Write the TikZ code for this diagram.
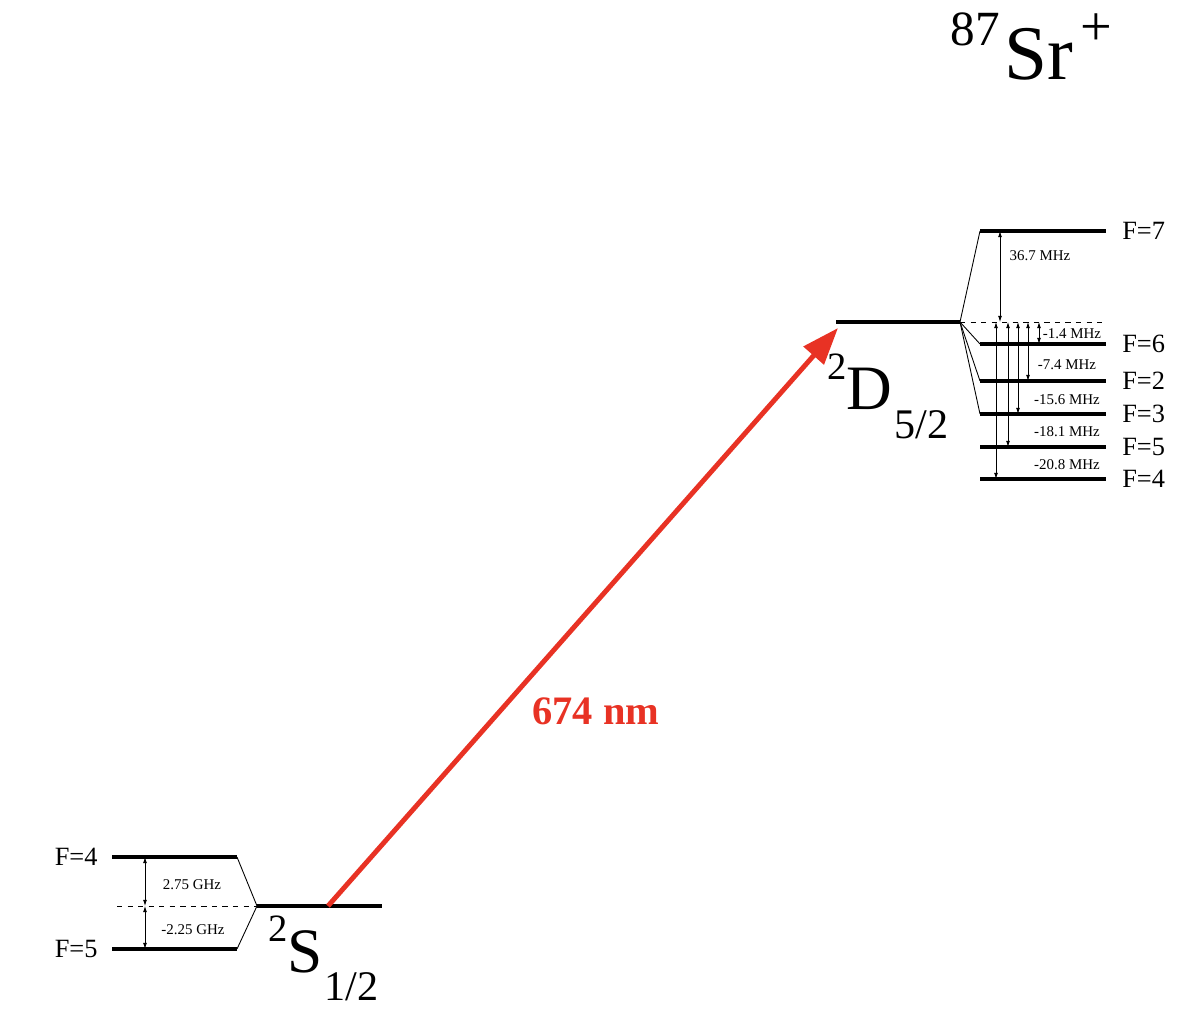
\documentclass[tikz,border=0pt]{standalone}
\usepackage{fontspec}
\setmainfont{Liberation Serif}
\usepackage{xcolor}
\usetikzlibrary{math}
\usetikzlibrary{calc}
\usetikzlibrary{positioning}
\usetikzlibrary{arrows.meta}

\definecolor{laser}{RGB}{232,50,36}

% term symbol: superscript, letter, subscript
\newcommand{\termsym}[3]{{\fontsize{36}{36}\selectfont\raisebox{0.48em}{\fontsize{22}{22}\selectfont #1}#2\kern1pt\raisebox{-0.45em}{\fontsize{24}{24}\selectfont #3}}}

\begin{document}
\begin{tikzpicture}[x=0.02cm,y=-0.02cm,line width=0.5pt,
  energy/.style={line width=2.8pt},
  gap/.style={{Latex[length=3.5pt,width=2.2pt]}-{Latex[length=3.5pt,width=2.2pt]},line width=0.4pt},
  flabel/.style={font=\fontsize{15}{18}\selectfont,inner sep=0pt},
  glabel/.style={font=\fontsize{8.5}{10}\selectfont,inner sep=0pt}]

  \useasboundingbox (0,0) rectangle (1204,1016);

  \tikzmath{
    \sx  = 257; % left end of 2S1/2 level
    \sy  = 906; % height of 2S1/2 level
    \dx  = 836; % left end of 2D5/2 level
    \dy  = 322; % height of 2D5/2 level
    \len = 125; % length of a level
    \hx  = 980; % left end of the D hyperfine levels
  }

  % title
  \node[anchor=base west, inner sep=0pt] (T) at (950,80)
  {\fontsize{44}{44}\selectfont\raisebox{0.45em}{\fontsize{28}{28}\selectfont 87}\kern3pt Sr\kern4pt\raisebox{0.45em}{\fontsize{32}{32}\selectfont +}};

  % 2S1/2 level
  \coordinate (SA) at (\sx,\sy);
  \coordinate (SB) at (\sx+\len,\sy);
  \draw[energy] (SA) -- (SB);
  \node[anchor=base west, inner sep=0pt] (Sn) at (268,972) {\termsym{2}{S}{1/2}};

  % hyperfine levels of 2S1/2
  \coordinate (S4)  at (112,857);
  \coordinate (S4') at (237,857);
  \coordinate (S5)  at (112,949);
  \coordinate (S5') at (237,949);
  \coordinate (S0)  at (117,\sy);
  \draw[energy] (S4) -- (S4');
  \draw[energy] (S5) -- (S5');
  \draw (S4') -- (SA) -- (S5');
  \draw[dashed] (S0) -- (SA);
  \node[flabel, left=8pt of S4] (lS4) {F=4};
  \node[flabel, left=8pt of S5] (lS5) {F=5};

  % splittings of 2S1/2
  \coordinate (g4) at (145,857);
  \coordinate (g5) at (145,949);
  \draw[gap] (g4) -- (g4 |- SA);
  \draw[gap] (g4 |- SA) -- (g5);
  \node[glabel] (f4) at (192,885) {2.75 GHz};
  \node[glabel] (f5) at (193,930) {-2.25 GHz};

  % 2D5/2 level
  \coordinate (DA) at (\dx,\dy);
  \coordinate (DB) at (\dx+\len-1,\dy);
  \coordinate (DE) at (1106,\dy);
  \draw[energy] (DA) -- (DB);
  \draw[dashed] (DB) -- (DE);
  \node[anchor=base west, inner sep=0pt] (Dn) at (827,410) {\termsym{2}{D}{5/2}};

  % hyperfine levels of 2D5/2
  \foreach \y/\f in {231/7, 344/6, 381/2, 414/3, 447/5, 479/4} {
    \coordinate (D\f)  at (\hx,\y);
    \coordinate (D\f') at (\hx+126,\y);
    \draw[energy] (D\f) -- (D\f');
    \node[flabel, right=9pt of D\f'] (lD\f) {F=\f};
  }
  \foreach \f in {7,6,2,3}
    \draw (DB) -- (D\f);

  % splittings of 2D5/2
  \foreach \x/\f in {1000/7, 1039/6, 1028/2, 1018/3, 1008/5, 996/4} {
    \coordinate (g\f) at (\x,0);
    \draw[gap] (g\f |- DB) -- (g\f |- D\f);
  }
  \node[glabel] (m7) at (1040,256) {36.7 MHz};
  \node[glabel] (m6) at (1072,334) {-1.4 MHz};
  \node[glabel] (m2) at (1067,365) {-7.4 MHz};
  \node[glabel] (m3) at (1067,400) {-15.6 MHz};
  \node[glabel] (m5) at (1067,432) {-18.1 MHz};
  \node[glabel] (m4) at (1067,465) {-20.8 MHz};

  % laser transition
  \coordinate (P) at (328,\sy);
  \coordinate (Q) at (838,328);
  \draw[laser, line width=2.8pt, -{Triangle[length=21pt,width=15pt]}] (P) -- (Q);
  \node[text=laser, font=\bfseries\fontsize{23}{27}\selectfont] (wl) at (596,711) {674 nm};

\end{tikzpicture}
\end{document}
